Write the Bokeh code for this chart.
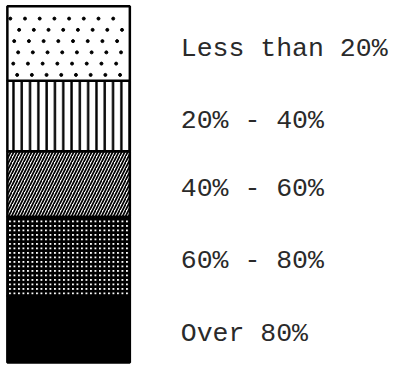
import numpy as np
from bokeh.plotting import figure
from bokeh.models import ColumnDataSource, Range1d
from bokeh.embed import file_html
from bokeh.resources import INLINE
from bokeh.core.properties import value

# legend classes, bottom to top
labels = ["Over 80%", "60% - 80%", "40% - 60%", "20% - 40%", "Less than 20%"]
heights = [68, 81, 67, 72, 76]

fills = ["black", "white", "white", "white", "white"]
patterns = [" ", "+", "/", "|", " "]
scales = [4, 4.5, 6, 8.3, 10]
weights = [1, 2.7, 1.7, 2.4, 1]

base = 5
bottoms, tops, mids = [], [], []
acc = base
for h in heights:
    bottoms.append(acc)
    tops.append(acc + h)
    mids.append(acc + h / 2)
    acc += h

src = ColumnDataSource(dict(bottom=bottoms, top=tops, mid=mids, label=labels,
                            fill=fills, pat=patterns, sc=scales, wt=weights))

p = figure(width=390, height=367, output_backend="svg", toolbar_location=None,
           x_range=Range1d(0, 398), y_range=Range1d(0, 375),
           min_border=0, outline_line_color=None)
p.axis.visible = False
p.grid.visible = False
p.background_fill_color = "white"
p.border_fill_color = "white"

x0, x1 = 7, 132

p.quad(left=x0, right=x1, bottom="bottom", top="top", source=src,
       fill_color="fill", line_color="black", line_width=2.5,
       hatch_pattern="pat", hatch_scale="sc", hatch_weight="wt",
       hatch_color="black")

# stipple texture for the top class: staggered grid of small dots
b, t = bottoms[-1], tops[-1]
ys = np.arange(b + 6, t - 3, 11.5)
dx, dy = [], []
for i, yy in enumerate(ys):
    off = 5 if i % 2 else 12
    for xx in np.arange(x0 + off, x1 - 3, 15):
        dx.append(xx + (i * 3 % 5) - 2)
        dy.append(yy)
p.scatter(dx, dy, size=3, color="black")

p.text(x=184, y="mid", text="label", source=src, y_offset=5,
       text_font=value("Liberation Mono"), text_font_size="26.5px",
       text_color="#2a2a2a", text_baseline="middle", text_align="left")

open("out.html", "w").write(file_html(p, INLINE))
